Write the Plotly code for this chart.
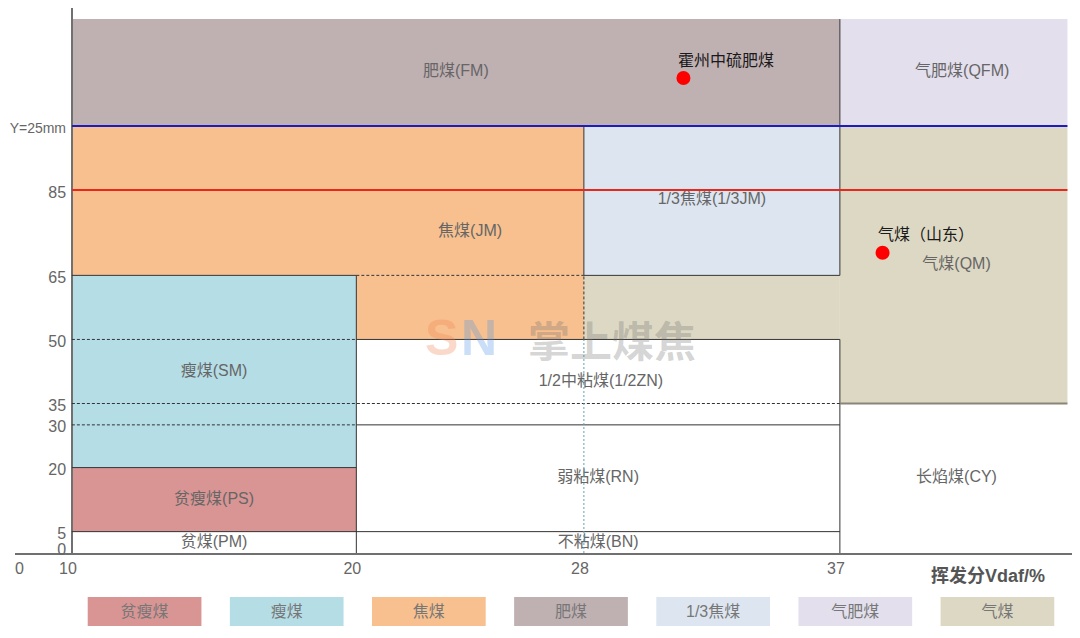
import plotly.graph_objects as go

# ---------------- data ----------------
# x: 挥发分 Vdaf/% ; y: 粘结指数 G (top band = Y>25mm)
x_tick_vals = [8.3, 10, 20, 28, 37]
x_tick_text = ["0", "10", "20", "28", "37"]
y_tick_vals = [1.4, 5, 20, 30, 35, 50, 65, 85, 100]
y_tick_text = ["0", "5", "20", "30", "35", "50", "65", "85",
               "<span style='font-size:14px'>Y=25mm</span>"]

# coloured regions (some classes are L-shaped -> two rectangles)
rect_class = ["贫瘦煤", "瘦煤", "焦煤", "焦煤", "肥煤", "1/3焦煤", "气肥煤", "气煤", "气煤"]
rect_x0 = [10, 10, 10, 20, 10, 28, 37, 37, 28]
rect_x1 = [20, 20, 28, 28, 37, 37, 45, 45, 37]
rect_y0 = [5, 20, 65, 50, 100, 65, 100, 35, 50]
rect_y1 = [20, 65, 100, 65, 125, 100, 125, 100, 65]

legend_names = ["贫瘦煤", "瘦煤", "焦煤", "肥煤", "1/3焦煤", "气肥煤", "气煤"]
legend_colors = ["#d99594", "#b5dde6", "#f8c08f", "#bfb0b2", "#dde6f0", "#e3dfed", "#ddd8c3"]

# class labels
region_labels = ["贫煤(PM)", "贫瘦煤(PS)", "瘦煤(SM)", "焦煤(JM)", "肥煤(FM)", "1/3焦煤(1/3JM)",
                 "气肥煤(QFM)", "气煤(QM)", "1/2中粘煤(1/2ZN)", "弱粘煤(RN)", "不粘煤(BN)", "长焰煤(CY)"]
label_x = [15, 15, 15, 24, 23.5, 32.5, 41.3, 41.1, 28.6, 28.5, 28.5, 41.1]
label_y = [2.3, 12.4, 42.4, 75.2, 112.6, 82.7, 112.6, 67.4, 40, 17.6, 2.3, 17.6]

# boundary segments (x0, y0, x1, y1)
solid_bounds = [(10, 5, 37, 5), (10, 20, 20, 20), (20, 30, 37, 30), (20, 50, 37, 50),
                (10, 65, 20, 65), (28, 65, 37, 65), (20, 0, 20, 65), (28, 65, 28, 100),
                (37, 0, 37, 50), (37, 65, 37, 125)]
dotted_bounds = [(20, 65, 28, 65), (10, 50, 20, 50), (10, 35, 37, 35), (10, 30, 20, 30),
                 (28, 50, 28, 65)]
light_dotted_bounds = [(28, 0, 28, 50)]
gray_bounds = [(37, 35, 45, 35)]

# reference lines
ref_line_y = [100, 85]
ref_line_colors = ["#1c1cc0", "#e8281c"]
ref_line_x = [10, 45]

# sample coals
sample_names = ["霍州中硫肥煤", "气煤（山东）"]
sample_x = [31.5, 38.5]
sample_y = [111.2, 70.3]

FONT = "Liberation Sans, Arial, Noto Sans CJK SC, sans-serif"

# page has an 8px body margin -> figure is 1064 x 622
W, H = 1064, 622

# ---------------- figure ----------------
fig = go.Figure()
color_of = dict(zip(legend_names, legend_colors))

shapes = []
for c, a, b, c0, c1 in zip(rect_class, rect_x0, rect_x1, rect_y0, rect_y1):
    shapes.append(dict(type="rect", xref="x", yref="y", x0=a, x1=b, y0=c0, y1=c1,
                       fillcolor=color_of[c], line=dict(width=0), layer="below"))
for (a, b, c, d) in solid_bounds:
    shapes.append(dict(type="line", xref="x", yref="y", x0=a, y0=b, x1=c, y1=d,
                       line=dict(color="#333333", width=1)))
for (a, b, c, d) in dotted_bounds:
    shapes.append(dict(type="line", xref="x", yref="y", x0=a, y0=b, x1=c, y1=d,
                       line=dict(color="#333333", width=1, dash="3px,2px")))
for (a, b, c, d) in light_dotted_bounds:
    shapes.append(dict(type="line", xref="x", yref="y", x0=a, y0=b, x1=c, y1=d,
                       line=dict(color="#5aa6b8", width=1, dash="2px,2px")))
for (a, b, c, d) in gray_bounds:
    shapes.append(dict(type="line", xref="x", yref="y", x0=a, y0=b, x1=c, y1=d,
                       line=dict(color="#8a8578", width=2)))
for yv, col in zip(ref_line_y, ref_line_colors):
    shapes.append(dict(type="line", xref="x", yref="y", x0=ref_line_x[0], x1=ref_line_x[1],
                       y0=yv, y1=yv, line=dict(color=col, width=2)))

# class labels
fig.add_trace(go.Scatter(x=label_x, y=label_y, mode="text", text=region_labels,
                         textfont=dict(family=FONT, size=16, color="#666666"),
                         hoverinfo="skip", showlegend=False, xaxis="x", yaxis="y"))

# sample points
fig.add_trace(go.Scatter(x=sample_x, y=sample_y, mode="markers",
                         marker=dict(color="#ff0000", size=14, line=dict(width=0)),
                         showlegend=False, xaxis="x", yaxis="y"))

annotations = []
for n, xv, yv in zip(sample_names, sample_x, sample_y):
    annotations.append(dict(x=xv, y=yv, xref="x", yref="y", text=n, showarrow=False,
                            xanchor="left", yanchor="middle", xshift=-7, yshift=18,
                            font=dict(family=FONT, size=16, color="#1a1a1a")))

# watermark
annotations.append(dict(x=29.0, y=50.3, xref="x", yref="y", text="<b>掌上煤焦</b>", showarrow=False,
                        xanchor="center", yanchor="middle",
                        font=dict(family="Noto Sans CJK SC", size=42, color="rgba(110,110,110,0.30)")))
annotations.append(dict(x=23.0, y=50.3, xref="x", yref="y", text="<b>S</b>", showarrow=False,
                        xanchor="center", yanchor="middle",
                        font=dict(family="Liberation Sans", size=50, color="rgba(240,130,80,0.30)")))
annotations.append(dict(x=24.3, y=50.3, xref="x", yref="y", text="<b>N</b>", showarrow=False,
                        xanchor="center", yanchor="middle",
                        font=dict(family="Liberation Sans", size=50, color="rgba(80,150,230,0.30)")))

# x-axis title
annotations.append(dict(x=980 / W, y=(H - 567) / H, xref="paper", yref="paper", text="<b>挥发分Vdaf/%</b>",
                        xanchor="center", yanchor="middle",
                        showarrow=False, font=dict(family=FONT, size=18, color="#555555")))

# legend drawn as a bar strip
fig.add_trace(go.Bar(x=legend_names, y=[1] * len(legend_names),
                     marker=dict(color=legend_colors, line=dict(width=0)),
                     text=legend_names, textposition="inside", insidetextanchor="middle",
                     textangle=0, constraintext="none",
                     textfont=dict(family=FONT, size=16, color="#777777"),
                     width=0.8, hoverinfo="skip", showlegend=False, xaxis="x2", yaxis="y2"))

fig.update_layout(
    width=W, height=H,
    margin=dict(l=0, r=0, t=0, b=0),
    paper_bgcolor="white", plot_bgcolor="white",
    showlegend=False,
    shapes=shapes,
    annotations=annotations,
    xaxis=dict(domain=[7 / W, 1], range=[8.0, 45.16], anchor="y",
               tickvals=x_tick_vals, ticktext=x_tick_text, ticks="", ticklabelshift=-4,
               showline=True, linecolor="#707070", linewidth=1.5, showgrid=False, zeroline=False,
               tickfont=dict(family=FONT, size=16, color="#666666"), automargin=False,
               fixedrange=True),
    yaxis=dict(domain=[77 / H, 1], range=[0, 127.6], anchor="free", position=64 / W,
               tickvals=y_tick_vals, ticktext=y_tick_text, ticks="", ticklabelshift=2,
               ticklabelstandoff=2,
               showline=True, linecolor="#707070", linewidth=1.5, showgrid=False, zeroline=False,
               tickfont=dict(family=FONT, size=16, color="#666666"), automargin=False,
               fixedrange=True),
    xaxis2=dict(domain=[65.5 / W, 1060.5 / W], anchor="y2", visible=False, range=[-0.5, 6.5]),
    yaxis2=dict(domain=[4 / H, 33 / H], anchor="x2", visible=False, range=[0, 1]),
)

fig.write_html("out.html")
